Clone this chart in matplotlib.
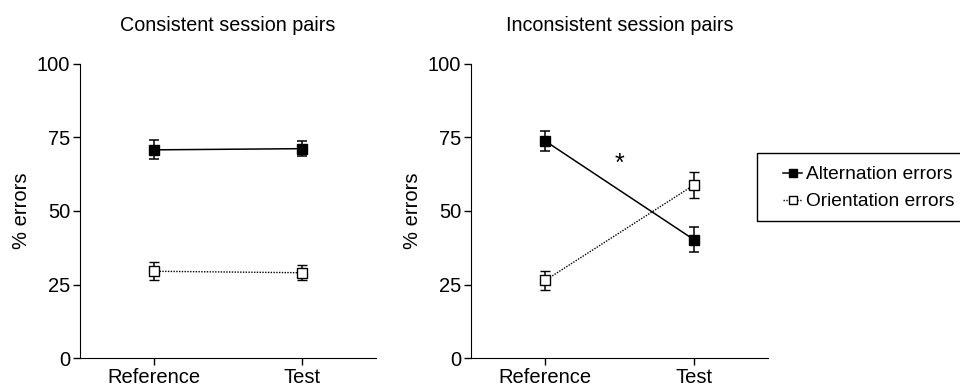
import matplotlib
matplotlib.use("Agg")
import matplotlib.pyplot as plt
from matplotlib.lines import Line2D
from matplotlib.patches import Rectangle

plt.rcParams['font.family'] = ['Liberation Sans', 'DejaVu Sans']

# Data
sessions = ['Reference', 'Test']
x = [1, 2]

# Consistent session pairs
cons_alt = [70.8, 71.2]
cons_alt_err = [3.2, 2.6]
cons_ori = [29.5, 29.0]
cons_ori_err = [3.1, 2.6]

# Inconsistent session pairs
incons_alt = [73.8, 40.3]
incons_alt_err = [3.4, 4.1]
incons_ori = [26.4, 58.8]
incons_ori_err = [3.2, 4.3]

titles = ['Consistent session pairs', 'Inconsistent session pairs']
series_names = ['Alternation errors', 'Orientation errors']
yticks = [0, 25, 50, 75, 100]

dotted = (0, (1, 1))

fig = plt.figure(figsize=(9.6, 3.87), dpi=100)
ax1 = fig.add_axes([80 / 960, 29 / 387, 296 / 960, 294 / 387])
ax2 = fig.add_axes([471 / 960, 29 / 387, 297 / 960, 294 / 387])


def draw_panel(ax, alt, alt_err, ori, ori_err, title):
    ax.errorbar(x, alt, yerr=alt_err, color='black', lw=1.1,
                marker='s', ms=7.5, mfc='black', mec='black',
                capsize=3.5, elinewidth=1.1, capthick=1.1)
    eb = ax.errorbar(x, ori, yerr=ori_err, color='black', lw=1.0,
                     ls=dotted, marker='s', ms=7.5, mfc='white',
                     mec='black', mew=1.0, capsize=3.5, elinewidth=1.1,
                     capthick=1.1)
    eb[-1][0].set_linestyle('-')
    ax.set_xlim(0.5, 2.5)
    ax.set_ylim(0, 100)
    ax.set_xticks(x)
    ax.set_xticklabels(sessions)
    ax.set_yticks(yticks)
    ax.set_ylabel('% errors', fontsize=14.5)
    ax.set_title(title, fontsize=14.2, pad=24)
    ax.spines['top'].set_visible(False)
    ax.spines['right'].set_visible(False)
    ax.tick_params(labelsize=14.5, length=5, width=1, pad=2)


draw_panel(ax1, cons_alt, cons_alt_err, cons_ori, cons_ori_err, titles[0])
draw_panel(ax2, incons_alt, incons_alt_err, incons_ori, incons_ori_err, titles[1])

# significance marker
ax2.text(1.5, 66.0, '*', fontsize=18, ha='center', va='center')

handles = [
    Line2D([], [], color='black', lw=1.1, marker='s', ms=6, mfc='black', mec='black'),
    Line2D([], [], color='black', lw=1.0, ls=dotted, marker='s', ms=6, mfc='white', mec='black'),
]
leg = fig.legend(handles, series_names,
                 loc='upper left', bbox_to_anchor=(783 / 960, 1 - 166 / 387),
                 fontsize=13.8, handlelength=1.0, handletextpad=0.2,
                 borderpad=0, labelspacing=0.5, borderaxespad=0,
                 frameon=False)

# legend box, running off the right edge as in the original
fig.patches.append(Rectangle((757 / 960, 1 - 221 / 387), 230 / 960, 68 / 387,
                             transform=fig.transFigure, fill=False,
                             edgecolor='black', lw=1.0))

fig.savefig('out.png', dpi=100)
